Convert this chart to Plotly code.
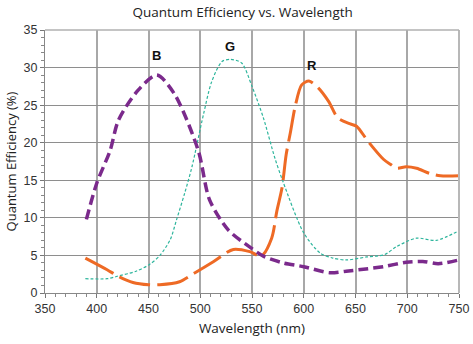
import plotly.graph_objects as go

# Blue channel
b_x = [390, 400, 413, 421, 440, 458, 475, 498, 509, 527, 548, 561, 580, 600, 625, 641, 660, 677, 699, 715, 730, 750]
b_y = [9.8, 14.6, 19.0, 23.0, 27.0, 29.0, 26.5, 19.0, 12.4, 8.4, 6.1, 4.9, 4.0, 3.5, 2.7, 2.9, 3.2, 3.5, 4.1, 4.2, 3.9, 4.4]

# Green channel
g_x = [389, 410, 419, 438, 451, 461, 471, 477, 485, 492, 503, 511, 521, 529, 540, 550, 561, 572, 580, 600, 616, 628, 641, 661, 678, 690, 709, 728, 750]
g_y = [1.9, 1.9, 2.2, 2.9, 3.8, 5.0, 7.1, 9.7, 13.3, 16.8, 23.7, 28.1, 30.8, 31.1, 30.6, 27.5, 23.3, 18.0, 14.8, 8.0, 5.3, 4.65, 4.4, 4.8, 5.1, 6.2, 7.3, 7.0, 8.3]

# Red channel
r_x = [389, 410, 421, 435, 450, 461, 480, 495, 513, 532, 548, 559, 569, 574, 579, 583, 587, 592, 598, 605, 614, 624, 633, 645, 651, 662, 677, 684, 690, 699, 709, 722, 732, 750]
r_y = [4.65, 3.1, 2.2, 1.4, 1.1, 1.1, 1.5, 2.7, 4.2, 5.8, 5.5, 4.9, 7.3, 10.9, 14.0, 18.4, 21.3, 25.0, 27.7, 28.2, 27.3, 25.5, 23.3, 22.5, 22.2, 20.2, 17.8, 17.1, 16.6, 16.8, 16.6, 15.9, 15.6, 15.6]

labels = ["B", "G", "R"]
label_x = [458, 529, 608]
label_y = [31.6, 32.8, 30.3]

x_ticks = [350, 400, 450, 500, 550, 600, 650, 700, 750]
y_ticks = [0, 5, 10, 15, 20, 25, 30, 35]

fig = go.Figure()
fig.add_trace(go.Scatter(x=g_x, y=g_y, mode="lines", line=dict(color="#2DB59C", width=1.2, dash="3px,2px", shape="spline", smoothing=0.8)))
fig.add_trace(go.Scatter(x=r_x, y=r_y, mode="lines", line=dict(color="#EE6A25", width=3, dash="32px,7px", shape="spline", smoothing=0.8)))
fig.add_trace(go.Scatter(x=b_x, y=b_y, mode="lines", line=dict(color="#7B2A8C", width=3.5, dash="10px,5px", shape="spline", smoothing=0.8)))

for t, lx, ly in zip(labels, label_x, label_y):
    fig.add_annotation(x=lx, y=ly, text="<b>" + t + "</b>", showarrow=False,
                       font=dict(family="Liberation Sans", size=13, color="#111111"))

fig.update_layout(
    width=473, height=344,
    margin=dict(l=45, r=14, t=30, b=51),
    paper_bgcolor="white", plot_bgcolor="white",
    showlegend=False,
    title=dict(text="Quantum Efficiency vs. Wavelength", x=0.513, xanchor="center", y=0.965, yanchor="middle",
               font=dict(family="Open Sans", size=13.5, color="#222222")),
    xaxis=dict(range=[350, 750], tickvals=x_ticks, showgrid=True, gridcolor="#A8A8A8", gridwidth=1.5,
               automargin=False,
               ticks="outside", ticklen=4, tickcolor="#777777", showline=True, linecolor="#888888", linewidth=1,
               mirror=False, zeroline=False,
               minor=dict(dtick=10, ticks="outside", ticklen=3, tickcolor="#888888", showgrid=False),
               tickfont=dict(family="Liberation Sans", size=12.5, color="#333333"),
               title=dict(text="Wavelength (nm)", font=dict(family="Open Sans", size=13.5, color="#222222"), standoff=8)),
    yaxis=dict(range=[0, 35], tickvals=y_ticks, showgrid=True, gridcolor="#8E8E8E", gridwidth=1.2,
               automargin=False,
               ticks="outside", ticklen=4, tickcolor="#777777", showline=True, linecolor="#888888", linewidth=1,
               zeroline=False,
               minor=dict(dtick=1, ticks="outside", ticklen=3, tickcolor="#888888", showgrid=False),
               tickfont=dict(family="Liberation Sans", size=12.5, color="#333333"),
               title=dict(text="Quantum Efficiency (%)", font=dict(family="Open Sans", size=13, color="#222222"), standoff=4)),
)
# right and top frame
fig.add_shape(type="line", xref="paper", yref="paper", x0=1, x1=1, y0=0, y1=1, line=dict(color="#B8B8B8", width=2))
fig.add_shape(type="line", xref="paper", yref="paper", x0=0, x1=1, y0=1, y1=1, line=dict(color="#B0B0B0", width=1.5))

fig.write_html("out.html")
